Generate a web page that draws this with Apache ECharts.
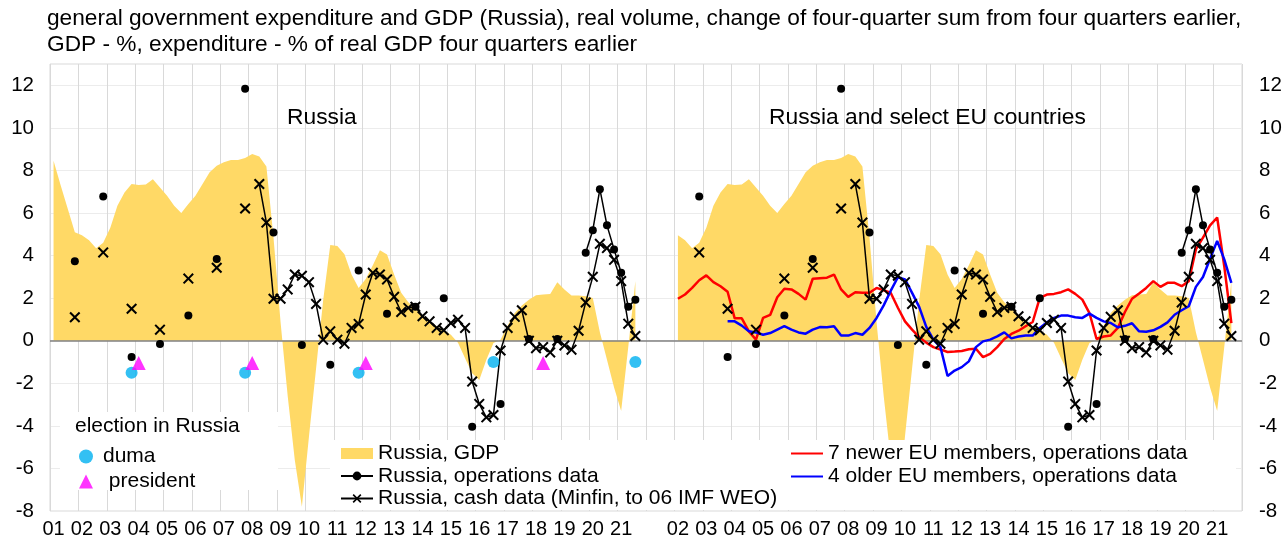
<!DOCTYPE html>
<html>
<head>
<meta charset="utf-8">
<script src="https://cdn.jsdelivr.net/npm/echarts@6/dist/echarts.min.js"></script>
<style>
  html, body { margin: 0; padding: 0; background: #fff; }
  #chart { width: 1285px; height: 543px; }
</style>
</head>
<body>
<div id="chart"></div>
<script>
// tick labels of the two panels (left panel has an unlabelled 2022 slot)
const leftYearLabels = ['01','02','03','04','05','06','07','08','09','10','11',
  '12','13','14','15','16','17','18','19','20','21',''];
const rightYearLabels = ['02','03','04','05','06','07','08','09','10','11',
  '12','13','14','15','16','17','18','19','20','21'];

// Russia, GDP, quarterly from 2001Q1 to 2021Q3
const gdpRussia = [8.46, 7.3, 6.2, 5.1, 4.95, 4.72, 4.34, 4.6, 5.31, 6.34, 6.96, 7.36,
  7.31, 7.34, 7.59, 7.2, 6.81, 6.34, 6.0, 6.42, 6.81, 7.36, 7.91, 8.22,
  8.38, 8.49, 8.49, 8.58, 8.77, 8.66, 8.19, 4.85, 0.85, -2.6, -5.6, -7.8,
  -4.5, -1.3, 1.9, 4.5, 4.45, 4.06, 3.11, 2.48, 2.9, 3.55, 4.25, 4.05,
  3.11, 2.25, 1.81, 1.49, 1.18, 0.91, 0.68, 0.49, 0.28, -0.1, -0.82, -1.53,
  -1.84, -0.9, -0.11, 0.05, 0.71, 1.3, 1.65, 1.93, 2.14, 2.17, 2.2, 2.75,
  2.41, 2.12, 2.12, 2.09, 2.01, 0.4, -0.9, -2.2, -3.3, -0.3, 2.8];

// Russia, operations data: annual (plotted at Q4) 2001-2018, then quarterly from 2019Q4
const opsAnnual = [3.73, 6.78, -0.77, -0.16, 1.19, 3.84, 11.84, 5.08, -0.2, -1.13,
  3.30, 1.27, 1.59, 2.0, -4.04, -2.97, 0.08, 0.08];
const opsQuarterly = [4.13, 5.19, 7.12, 5.42, 4.29, 3.19, 1.59, 1.93]; // 2019Q4-2021Q3

// Russia, cash data: annual (at Q4) 2001-2007, then quarterly from 2008Q2
const cashAnnual = [1.1, 4.15, 1.5, 0.52, 2.92, 3.43, 6.21];
const cashQuarterly = [7.36, 5.55, 1.97, 1.97, 2.41, 3.11, 3.05, 2.75, 1.73, 0.05,
  0.44, 0.05, -0.14, 0.6, 0.79, 2.17, 3.19, 3.11, 2.88, 2.06, 1.35, 1.54, 1.59,
  1.15, 0.91, 0.6, 0.49, 0.83, 0.99, 0.6, -1.92, -2.97, -3.6, -3.49, -0.46, 0.6,
  1.12, 1.43, 0.0, -0.35, -0.3, -0.55, 0.0, -0.22, -0.42, 0.47, 1.8, 3.0, 4.55,
  4.35, 3.8, 2.8, 0.8, 0.22];

// 7 newer EU members, 2002Q1-2021Q3
const newerEU = [1.97, 2.17, 2.48, 2.84, 3.07, 2.75, 2.56, 2.3, 1.05, 1.05, 0.44, 0.05,
  1.07, 1.21, 2.04, 2.44, 2.41, 2.2, 1.93, 2.91, 2.94, 2.96, 3.11, 2.41, 2.06, 2.28,
  2.25, 2.25, 2.48, 2.37, 2.24, 1.55, 0.91, 0.52, 0.17, -0.09, -0.3, -0.41, -0.53,
  -0.51, -0.48, -0.4, -0.38, -0.77, -0.62, -0.3, 0.08, 0.32, 0.47, 0.68, 0.88, 2.01,
  2.17, 2.2, 2.28, 2.41, 2.2, 1.93, 1.3, 0.08, 0.2, 0.25, 0.6, 1.35, 1.97, 2.22,
  2.48, 2.8, 2.53, 2.72, 2.72, 2.56, 2.8, 4.29, 4.84, 5.42, 5.79, 3.5, 0.83];

// 4 older EU members, 2003Q4-2021Q3
const olderEU = [0.91, 0.91, 0.71, 0.44, 0.39, 0.28, 0.36, 0.52, 0.68, 0.52, 0.39,
  0.33, 0.52, 0.64, 0.63, 0.68, 0.24, 0.24, 0.36, 0.28, 0.6, 1.07, 1.66, 2.35, 2.98,
  2.88, 2.25, 1.59, 0.65, 0.05, -0.3, -1.66, -1.4, -1.24, -0.97, -0.3, -0.03, 0.05,
  0.2, 0.39, 0.11, 0.2, 0.25, 0.24, 0.6, 0.86, 1.07, 1.18, 1.18, 1.1, 1.07, 1.27,
  1.07, 0.91, 0.83, 0.63, 0.7, 0.82, 0.44, 0.42, 0.49, 0.65, 0.86, 1.22, 1.43, 1.62,
  2.53, 2.99, 3.85, 4.69, 3.82, 2.72];

// elections in Russia (marker height only)
const dumaQuarters = ['2003Q4', '2007Q4', '2011Q4', '2016Q3', '2021Q3'];
const dumaLevels = [-1.5, -1.5, -1.5, -1.0, -1.0];
const presidentQuarters = ['2004Q1', '2008Q1', '2012Q1', '2018Q2'];
const presidentLevels = [-1.05, -1.05, -1.05, -1.05];

// ---- category axis: quarters of both panels side by side
const categories = [];
const tickLabels = [];
leftYearLabels.forEach((lab, k) => {
  for (let q = 1; q <= 4; q++) { categories.push('L' + (2001 + k) + 'Q' + q); tickLabels.push(q === 1 ? lab : ''); }
});
rightYearLabels.forEach((lab, k) => {
  for (let q = 1; q <= 4; q++) { categories.push('R' + (2002 + k) + 'Q' + q); tickLabels.push(q === 1 ? lab : ''); }
});
const RIGHT_SHIFT = leftYearLabels.length * 4 - 4; // left 2002Q1 -> right 2002Q1

function quarterIndex(q) {
  const y = +q.slice(0, 4), n = +q.slice(5);
  return (y - 2001) * 4 + n - 1;
}
function quarterAfter(q, k) {
  const i = quarterIndex(q) + k;
  return (2001 + Math.floor(i / 4)) + 'Q' + (i % 4 + 1);
}
function emptyRow() { return categories.map(() => null); }
function putBoth(row, q, v) {
  const i = quarterIndex(q);
  row[i] = v;
  if (+q.slice(0, 4) >= 2002) row[i + RIGHT_SHIFT] = v;
}
function putRight(row, q, v) { row[quarterIndex(q) + RIGHT_SHIFT] = v; }

const gdpRow = emptyRow();
gdpRussia.forEach((v, k) => putBoth(gdpRow, quarterAfter('2001Q1', k), v));
const opsRow = emptyRow();
opsAnnual.forEach((v, k) => putBoth(opsRow, (2001 + k) + 'Q4', v));
opsQuarterly.forEach((v, k) => putBoth(opsRow, quarterAfter('2019Q4', k), v));
const cashRow = emptyRow();
cashAnnual.forEach((v, k) => putBoth(cashRow, (2001 + k) + 'Q4', v));
cashQuarterly.forEach((v, k) => putBoth(cashRow, quarterAfter('2008Q2', k), v));
const newRow = emptyRow();
newerEU.forEach((v, k) => putRight(newRow, quarterAfter('2002Q1', k), v));
const oldRow = emptyRow();
olderEU.forEach((v, k) => putRight(oldRow, quarterAfter('2003Q4', k), v));
const dumaPts = dumaQuarters.map((q, k) => [quarterIndex(q), dumaLevels[k]]);
const presPts = presidentQuarters.map((q, k) => [quarterIndex(q), presidentLevels[k]]);

const FONT = '"Liberation Sans", Arial, sans-serif';
const crossPath = 'path://M0,1.3L1.3,0L5,3.7L8.7,0L10,1.3L6.3,5L10,8.7L8.7,10L5,6.3L1.3,10L0,8.7L3.7,5Z';

const chart = echarts.init(document.getElementById('chart'));
chart.setOption({
  animation: false,
  textStyle: { fontFamily: FONT, color: '#000' },
  title: {
    text: 'general government expenditure and GDP (Russia), real volume, change of four-quarter sum from four quarters earlier,\nGDP - %, expenditure - % of real GDP four quarters earlier',
    left: 47, top: 6, padding: 0,
    textStyle: { fontSize: 22.7, fontWeight: 'normal', color: '#000', lineHeight: 26, fontFamily: FONT }
  },
  grid: { left: 50, right: 43, top: 64, bottom: 32, show: true, borderColor: '#d9d9d9', borderWidth: 1 },
  xAxis: {
    type: 'category',
    data: categories,
    boundaryGap: true,
    axisLine: { show: false },
    axisTick: { show: false },
    axisLabel: { interval: 0, formatter: (v, i) => tickLabels[i], fontSize: 20, color: '#000', margin: 8 },
    splitLine: { show: true, interval: (i) => i % 4 === 0, lineStyle: { color: '#d9d9d9', width: 1 } }
  },
  yAxis: [
    {
      type: 'value', min: -8, max: 13, interval: 2, position: 'left',
      axisLine: { show: false }, axisTick: { show: false },
      axisLabel: { showMaxLabel: false, fontSize: 20.5, color: '#000', margin: 16 },
      splitLine: { lineStyle: { color: '#ececec', width: 1 } }
    },
    {
      type: 'value', min: -8, max: 13, interval: 2, position: 'right',
      axisLine: { show: false }, axisTick: { show: false },
      axisLabel: { showMaxLabel: false, fontSize: 20.5, color: '#000', margin: 17 },
      splitLine: { show: false }
    }
  ],
  graphic: [
    { type: 'text', left: 287, top: 106, z: 10, style: { text: 'Russia', font: '22.8px ' + FONT, fill: '#000' } },
    { type: 'text', left: 769, top: 106, z: 10, style: { text: 'Russia and select EU countries', font: '22.8px ' + FONT, fill: '#000' } },
    { type: 'rect', z: 3, shape: { x: 60, y: 412, width: 218, height: 78 }, style: { fill: '#fff' } },
    { type: 'text', left: 75, top: 416, z: 10, style: { text: 'election in Russia', font: '21px ' + FONT, fill: '#000' } },
    { type: 'rect', z: 3, shape: { x: 330, y: 440, width: 906, height: 70 }, style: { fill: '#fff' } }
  ],
  legend: [
    {
      data: ['duma', ' president'], orient: 'vertical', left: 74, top: 441,
      itemWidth: 14, itemHeight: 14, itemGap: 4, selectedMode: false,
      textStyle: { fontSize: 21, color: '#000', padding: [0, 0, 0, 5], fontFamily: FONT }
    },
    {
      data: [
        { name: 'Russia, GDP', icon: 'rect', itemStyle: { color: '#FFD966' } },
        'Russia, operations data',
        'Russia, cash data (Minfin, to 06 IMF WEO)'
      ],
      orient: 'vertical', left: 335, top: 438,
      itemWidth: 32, itemHeight: 11, itemGap: 1.5, selectedMode: false,
      textStyle: { fontSize: 21, color: '#000', lineHeight: 21, fontFamily: FONT }
    },
    {
      data: [
        { name: '7 newer EU members, operations data', itemStyle: { opacity: 0 } },
        { name: '4 older EU members, operations data', itemStyle: { opacity: 0 } }
      ],
      orient: 'vertical', left: 785, top: 438,
      itemWidth: 32, itemHeight: 11, itemGap: 2, selectedMode: false,
      textStyle: { fontSize: 21, color: '#000', lineHeight: 21, fontFamily: FONT }
    }
  ],
  series: [
    {
      name: 'Russia, GDP', type: 'line', data: gdpRow, z: 1, silent: true,
      symbol: 'none', lineStyle: { width: 0, color: '#FFD966' },
      itemStyle: { color: '#FFD966' },
      areaStyle: { color: '#FFD966', opacity: 1 },
      markLine: {
        silent: true, symbol: ['none', 'none'], z: 2, label: { show: false },
        lineStyle: { color: '#808080', width: 1.5, type: 'solid' },
        data: [{ yAxis: 0 }]
      }
    },
    {
      name: '7 newer EU members, operations data', type: 'line', data: newRow, z: 3,
      symbol: 'none', lineStyle: { width: 2.5, color: '#FF0000' }, itemStyle: { color: '#FF0000' }
    },
    {
      name: '4 older EU members, operations data', type: 'line', data: oldRow, z: 3,
      symbol: 'none', lineStyle: { width: 2.5, color: '#0000FF' }, itemStyle: { color: '#0000FF' }
    },
    {
      name: 'Russia, operations data', type: 'line', data: opsRow, z: 4,
      symbol: 'circle', symbolSize: 8, showSymbol: true, showAllSymbol: true,
      lineStyle: { width: 1.5, color: '#000' }, itemStyle: { color: '#000' }
    },
    {
      name: 'Russia, cash data (Minfin, to 06 IMF WEO)', type: 'line', data: cashRow, z: 4,
      symbol: crossPath, symbolSize: 11, showSymbol: true, showAllSymbol: true,
      lineStyle: { width: 1.5, color: '#000' }, itemStyle: { color: '#000' }
    },
    {
      name: 'duma', type: 'scatter', data: dumaPts, z: 4,
      symbol: 'circle', symbolSize: 12, itemStyle: { color: '#00B0F0' }
    },
    {
      name: ' president', type: 'scatter', data: presPts, z: 4,
      symbol: 'triangle', symbolSize: 14, itemStyle: { color: '#FF00FF' }
    }
  ]
});
</script>
</body>
</html>
